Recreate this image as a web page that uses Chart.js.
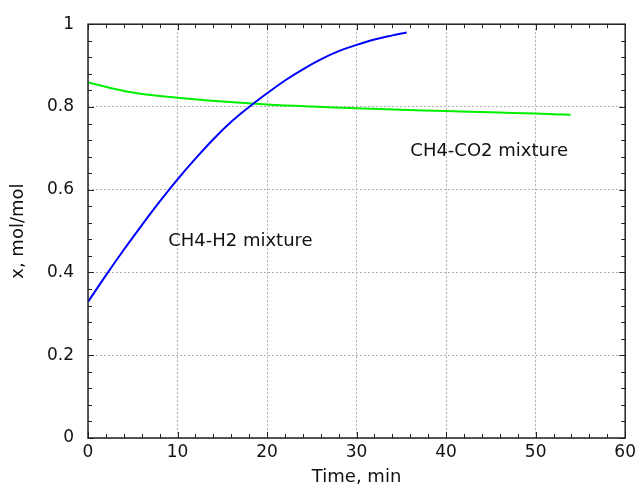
<!DOCTYPE html>
<html>
<head>
<meta charset="utf-8">
<script src="https://cdn.jsdelivr.net/npm/chart.js@4"></script>
<style>
  html, body { margin: 0; padding: 0; background: #fff; }
  #wrap { width: 640px; height: 484px; }
</style>
</head>
<body>
<div id="wrap"><canvas id="myChart" width="640" height="484"></canvas></div>
<script>
// values
var h2Time = [0, 2, 4, 6, 8, 10, 12, 14, 16, 18, 20, 22, 24, 26, 28, 30, 32, 34, 35.6];
var h2Frac = [0.329, 0.393, 0.455, 0.514, 0.571, 0.625, 0.675, 0.722, 0.764, 0.800,
              0.833, 0.864, 0.891, 0.915, 0.935, 0.950, 0.963, 0.973, 0.980];

var co2Time = [0, 5, 10, 15, 20, 25, 30, 35, 40, 45, 50, 53.9];
var co2Frac = [0.859, 0.835, 0.822, 0.813, 0.806, 0.801, 0.797, 0.793, 0.790, 0.787, 0.784, 0.781];

var xTicks = [0, 10, 20, 30, 40, 50, 60];
var yTicks = [0, 0.2, 0.4, 0.6, 0.8, 1];

var labelText = ['CH4-H2 mixture', 'CH4-CO2 mixture'];
var labelX = [8.95, 36.0];
var labelY = [0.475, 0.693];

function pairs(xs, ys) {
    return xs.map(function (x, i) { return {x: x, y: ys[i]}; });
}

// box, inward major/minor ticks and the curve labels
var framePlugin = {
    id: 'frame',
    afterDraw: function (chart) {
        var ctx = chart.ctx;
        var a = chart.chartArea;
        var xs = chart.scales.x, ys = chart.scales.y;
        ctx.save();
        ctx.strokeStyle = '#222';
        ctx.lineWidth = 1.5;
        ctx.strokeRect(a.left, a.top, a.right - a.left, a.bottom - a.top);
        ctx.lineWidth = 1;
        var v, p, len;
        for (v = 0; v <= 60.001; v += 2) {
            p = Math.round(xs.getPixelForValue(v)) + 0.5;
            len = (Math.abs(v % 10) < 0.01) ? 6 : 4;
            ctx.beginPath();
            ctx.moveTo(p, a.bottom); ctx.lineTo(p, a.bottom - len);
            ctx.moveTo(p, a.top); ctx.lineTo(p, a.top + len);
            ctx.stroke();
        }
        for (var k = 0; k <= 25; k++) {
            v = k * 0.04;
            p = Math.round(ys.getPixelForValue(v)) + 0.5;
            len = (k % 5 === 0) ? 6 : 4;
            ctx.beginPath();
            ctx.moveTo(a.left, p); ctx.lineTo(a.left + len, p);
            ctx.moveTo(a.right, p); ctx.lineTo(a.right - len, p);
            ctx.stroke();
        }
        ctx.fillStyle = '#111';
        ctx.font = '18px "DejaVu Sans"';
        ctx.textBaseline = 'middle';
        ctx.textAlign = 'left';
        for (var i = 0; i < labelText.length; i++) {
            ctx.fillText(labelText[i], xs.getPixelForValue(labelX[i]), ys.getPixelForValue(labelY[i]));
        }
        ctx.restore();
    }
};

var ctx = document.getElementById('myChart').getContext('2d');
var chart = new Chart(ctx, {
    type: 'scatter',
    data: {
        datasets: [{
            label: 'CH4-H2',
            data: pairs(h2Time, h2Frac),
            showLine: true,
            borderColor: '#0000ff',
            borderWidth: 2,
            pointRadius: 0,
            tension: 0.4
        }, {
            label: 'CH4-CO2',
            data: pairs(co2Time, co2Frac),
            showLine: true,
            borderColor: '#00f000',
            borderWidth: 2,
            pointRadius: 0,
            tension: 0.4
        }]
    },
    options: {
        responsive: false,
        animation: false,
        layout: { padding: { top: 23, right: 13, left: 0, bottom: 0 } },
        plugins: { legend: { display: false }, tooltip: { enabled: false } },
        scales: {
            x: {
                type: 'linear',
                min: 0, max: 60,
                afterBuildTicks: function (s) { s.ticks = xTicks.map(function (v) { return {value: v}; }); },
                afterFit: function (s) { s.height = 46; },
                grid: { color: '#b0b0b0', drawTicks: false, lineWidth: 1 },
                border: { display: false, dash: [2, 2] },
                ticks: { color: '#111', font: { family: 'DejaVu Sans', size: 17 }, padding: 4, maxRotation: 0 },
                title: { display: true, text: 'Time, min', color: '#111', font: { family: 'DejaVu Sans', size: 18, lineHeight: 0.7 }, padding: { top: 0, bottom: 0 } }
            },
            y: {
                type: 'linear',
                min: 0, max: 1,
                afterBuildTicks: function (s) { s.ticks = yTicks.map(function (v) { return {value: v}; }); },
                afterFit: function (s) { s.width = 88; },
                grid: { color: '#b0b0b0', drawTicks: false, lineWidth: 1 },
                border: { display: false, dash: [2, 2] },
                ticks: {
                    color: '#111', font: { family: 'DejaVu Sans', size: 17 }, padding: 14,
                    callback: function (v) { return String(v); }
                },
                title: { display: true, text: 'x, mol/mol', color: '#111', font: { family: 'DejaVu Sans', size: 18 }, padding: { top: 8, bottom: 0 } }
            }
        }
    },
    plugins: [framePlugin]
});
</script>
</body>
</html>
